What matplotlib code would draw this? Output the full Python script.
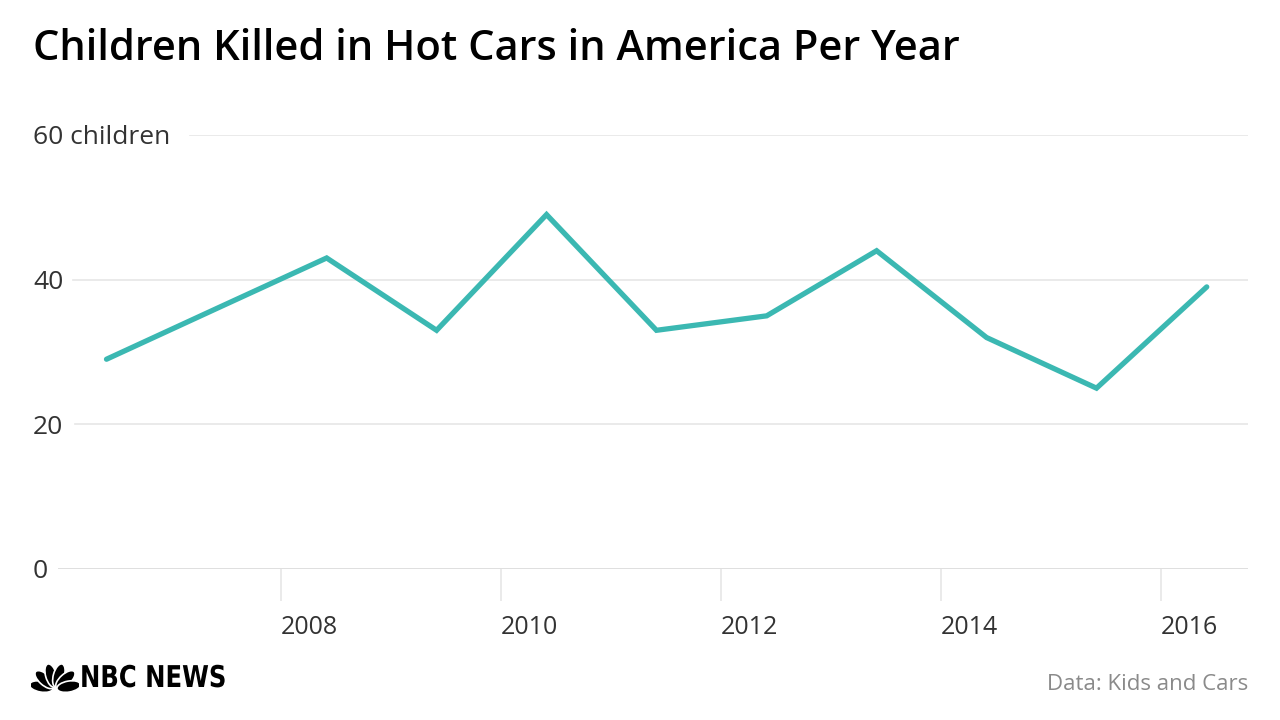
import matplotlib
matplotlib.use("Agg")
import matplotlib.pyplot as plt
import matplotlib.transforms as mtransforms
from matplotlib.patches import Ellipse, PathPatch
from matplotlib.textpath import TextPath
from matplotlib.font_manager import FontProperties
from datetime import datetime
import numpy as np

# data: Kids and Cars, children killed in hot cars per year
years = [2006, 2007, 2008, 2009, 2010, 2011, 2012, 2013, 2014, 2015, 2016]
deaths = [29, 36, 43, 33, 49, 33, 35, 44, 32, 25, 39]
yticks = [0, 20, 40, 60]
ytick_labels = ["0", "20", "40", "60 children"]
xtick_years = [2008, 2010, 2012, 2014, 2016]

LINE = "#3bb8b2"
GRID = "#e6e6e6"
TEXT = "#333333"

plt.rcParams['font.family'] = ['Open Sans', 'DejaVu Sans']

fig = plt.figure(figsize=(12.8, 7.2), dpi=100)
W, H = 1280, 720
ax = fig.add_axes([58 / W, 1 - 569 / H, (1248 - 58) / W, (569 - 135) / H])

dates = [datetime(y, 6, 1) for y in years]
ax.plot(dates, deaths, color=LINE, linewidth=3.8, solid_joinstyle='miter',
        solid_capstyle='round', clip_on=False, zorder=3)

ax.set_xlim(datetime(2005, 12, 22), datetime(2016, 10, 16))
ax.set_ylim(0, 60)

# gridlines start just after each y label
grid_start = {0: 0.0, 20: 0.0145, 40: 0.0126, 60: 0.111}
for v in yticks:
    ax.axhline(v, xmin=grid_start[v], xmax=1, color=GRID if v else "#d9d9d9",
               linewidth=1.2, zorder=1)

lab_tr = mtransforms.blended_transform_factory(fig.transFigure, ax.transData)
for v, lab in zip(yticks, ytick_labels):
    ax.text(33 / W, v, lab, transform=lab_tr, ha='left', va='center_baseline',
            fontsize=19, color=TEXT)

ax.set_yticks([])
ax.set_xticks([datetime(y, 1, 1) for y in xtick_years])
ax.set_xticklabels([str(y) for y in xtick_years], ha='left', fontsize=18,
                   color=TEXT)
ax.tick_params(axis='x', length=23, width=1.2, color=GRID, pad=10)
for s in ax.spines.values():
    s.set_visible(False)

fig.text(33 / W, 1 - 60 / H, "Children Killed in Hot Cars in America Per Year",
         ha='left', va='baseline', fontsize=30, fontweight='semibold', color='black')

fig.text(1248 / W, 1 - 684 / H, "Data: Kids and Cars", ha='right', va='center',
         fontsize=16, color="#8a8a8a")

# NBC News logo: peacock fan + condensed wordmark
lax = fig.add_axes([31 / W, 1 - 692 / H, 48 / W, 32 / H])
lax.set_xlim(-24, 24)
lax.set_ylim(0, 32)
lax.axis('off')
for ang in np.linspace(170, 10, 6):
    a = np.radians(ang)
    r = 14
    lax.add_patch(Ellipse((r * np.cos(a), 3 + r * np.sin(a)), 24, 11,
                          angle=ang, facecolor='black', edgecolor='white', linewidth=1.2))

word = TextPath((0, 0), "NBC NEWS", size=30,
                prop=FontProperties(family='DejaVu Sans', weight='bold'))
word_tr = mtransforms.Affine2D().scale(0.81 * fig.dpi / 100, fig.dpi / 100) \
    .translate(80 * fig.dpi / 100, (H - 687) * fig.dpi / 100)
fig.add_artist(PathPatch(word, facecolor='black', edgecolor='none', transform=word_tr))

fig.savefig("out.png", dpi=100, facecolor='white')
